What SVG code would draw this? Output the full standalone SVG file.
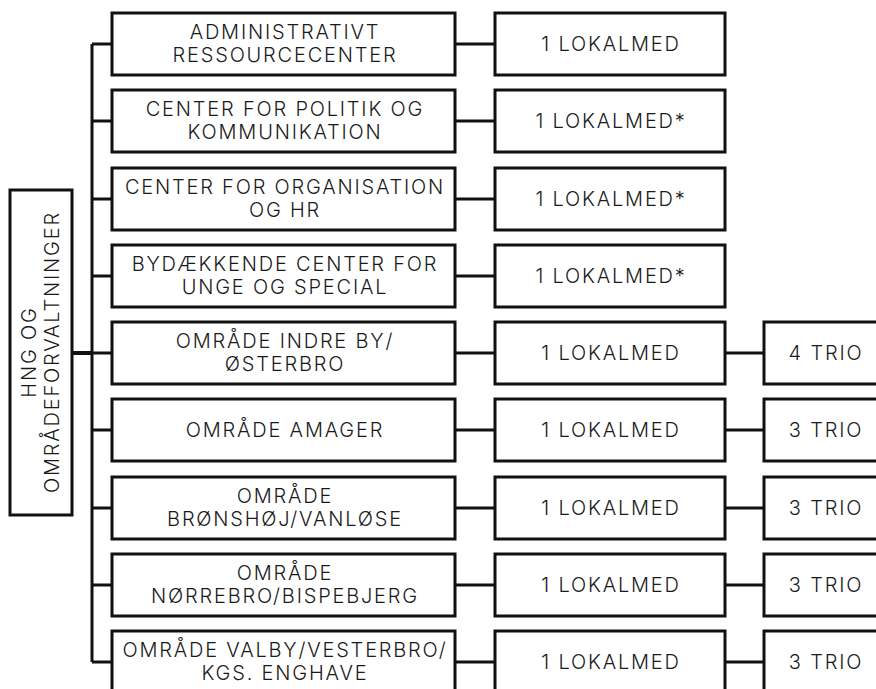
<svg xmlns="http://www.w3.org/2000/svg" width="876" height="689" viewBox="0 0 876 689">
<style>
.box{fill:#fff;stroke:#111;stroke-width:3}
.ln{stroke:#111;stroke-width:3;fill:none}
text{font-family:Inter,"Liberation Sans",Arial,sans-serif;font-weight:300;font-size:20px;fill:#1a1a1a;text-anchor:middle;letter-spacing:1.8px}
</style>
<rect width="876" height="689" fill="#fff"/>
<g id="connectors">
<path class="ln" d="M92 44V662"/>
<path class="ln" style="stroke-width:4" d="M72 353H92"/>
<path class="ln" d="M92 44H112M92 121H112M92 199H112M92 276H112M92 353H112M92 430H112M92 508H112M92 585H112M92 662H112"/>
<path class="ln" d="M455 44H495M455 121H495M455 199H495M455 276H495M455 353H495M455 430H495M455 508H495M455 585H495M455 662H495"/>
<path class="ln" d="M725 353H764M725 430H764M725 508H764M725 585H764M725 662H764"/>
</g>
<g id="root">
<rect class="box" x="10" y="190" width="62" height="325"/>
<g transform="translate(42,352) rotate(-90)">
<text x="0" y="-6">HNG OG</text>
<text x="0" y="17">OMRÅDEFORVALTNINGER</text>
</g>
</g>
<g id="n1"><rect class="box" x="112" y="13" width="343" height="62"/><text x="285" y="39">ADMINISTRATIVT</text><text x="285" y="62">RESSOURCECENTER</text></g>
<g id="n2"><rect class="box" x="112" y="90" width="343" height="62"/><text x="285" y="116">CENTER FOR POLITIK OG</text><text x="285" y="139">KOMMUNIKATION</text></g>
<g id="n3"><rect class="box" x="112" y="168" width="343" height="62"/><text x="285" y="194">CENTER FOR ORGANISATION</text><text x="285" y="217">OG HR</text></g>
<g id="n4"><rect class="box" x="112" y="245" width="343" height="62"/><text x="285" y="271">BYDÆKKENDE CENTER FOR</text><text x="285" y="294">UNGE OG SPECIAL</text></g>
<g id="n5"><rect class="box" x="112" y="322" width="343" height="62"/><text x="285" y="348">OMRÅDE INDRE BY/</text><text x="285" y="371">ØSTERBRO</text></g>
<g id="n6"><rect class="box" x="112" y="399" width="343" height="62"/><text x="285" y="437">OMRÅDE AMAGER</text></g>
<g id="n7"><rect class="box" x="112" y="477" width="343" height="62"/><text x="285" y="503">OMRÅDE</text><text x="285" y="526">BRØNSHØJ/VANLØSE</text></g>
<g id="n8"><rect class="box" x="112" y="554" width="343" height="62"/><text x="285" y="580">OMRÅDE</text><text x="285" y="603">NØRREBRO/BISPEBJERG</text></g>
<g id="n9"><rect class="box" x="112" y="631" width="343" height="62"/><text x="285" y="657">OMRÅDE VALBY/VESTERBRO/</text><text x="285" y="680">KGS. ENGHAVE</text></g>
<g id="l1"><rect class="box" x="495" y="13" width="230" height="62"/><text x="611" y="51">1 LOKALMED</text></g>
<g id="l2"><rect class="box" x="495" y="90" width="230" height="62"/><text x="611" y="128">1 LOKALMED*</text></g>
<g id="l3"><rect class="box" x="495" y="168" width="230" height="62"/><text x="611" y="206">1 LOKALMED*</text></g>
<g id="l4"><rect class="box" x="495" y="245" width="230" height="62"/><text x="611" y="283">1 LOKALMED*</text></g>
<g id="l5"><rect class="box" x="495" y="322" width="230" height="62"/><text x="611" y="360">1 LOKALMED</text></g>
<g id="l6"><rect class="box" x="495" y="399" width="230" height="62"/><text x="611" y="437">1 LOKALMED</text></g>
<g id="l7"><rect class="box" x="495" y="477" width="230" height="62"/><text x="611" y="515">1 LOKALMED</text></g>
<g id="l8"><rect class="box" x="495" y="554" width="230" height="62"/><text x="611" y="592">1 LOKALMED</text></g>
<g id="l9"><rect class="box" x="495" y="631" width="230" height="62"/><text x="611" y="669">1 LOKALMED</text></g>
<g id="t5"><rect class="box" x="764" y="322" width="122" height="62"/><text x="826" y="360">4 TRIO</text></g>
<g id="t6"><rect class="box" x="764" y="399" width="122" height="62"/><text x="826" y="437">3 TRIO</text></g>
<g id="t7"><rect class="box" x="764" y="477" width="122" height="62"/><text x="826" y="515">3 TRIO</text></g>
<g id="t8"><rect class="box" x="764" y="554" width="122" height="62"/><text x="826" y="592">3 TRIO</text></g>
<g id="t9"><rect class="box" x="764" y="631" width="122" height="62"/><text x="826" y="669">3 TRIO</text></g>
</svg>
